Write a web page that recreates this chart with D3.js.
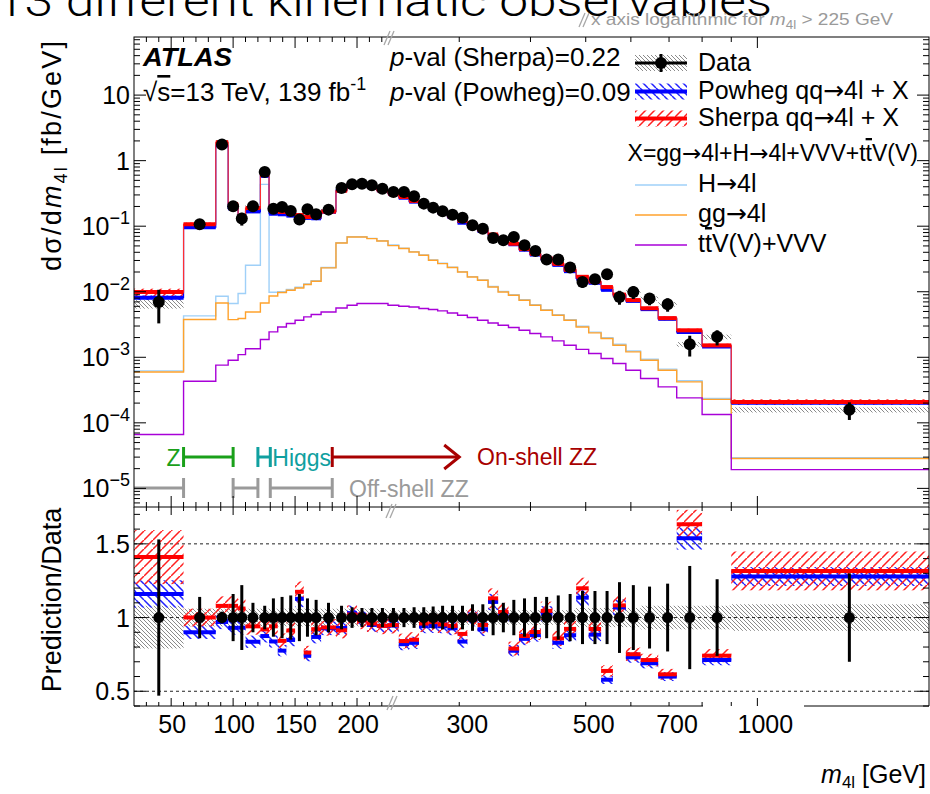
<!DOCTYPE html>
<html>
<head>
<meta charset="utf-8">
<script src="https://cdn.jsdelivr.net/npm/d3@7"></script>
<style>
  body { margin: 0; background: #fff; }
  svg { display: block; }
  text { font-family: "Liberation Sans", Arial, Helvetica, sans-serif; }
  .arr { font-family: "DejaVu Sans", sans-serif; }
</style>
</head>
<body>
<svg id="chart" width="930" height="794"></svg>
<script>
// m4l bin edges [GeV] (linear up to 225, log above)
const binEdges = [20, 60, 86, 96, 104, 110, 122, 129, 136, 143, 150, 157, 163, 171, 183, 192, 200, 208, 216, 225,
  235, 245, 255, 265, 275, 286, 298, 310, 323, 337, 351, 366, 382, 399, 417, 437, 458, 481, 506, 532, 558, 588,
  624, 670, 722, 800, 900, 2000];

// measured dsigma/dm4l [fb/GeV]
const dataVal = [0.0070, 0.107, 1.77, 0.201, 0.131, 0.201, 0.67, 0.185, 0.196, 0.171, 0.126, 0.181, 0.152, 0.179,
  0.382, 0.435, 0.446, 0.42, 0.374,
  0.332, 0.332, 0.286, 0.221, 0.192, 0.169, 0.150, 0.135, 0.103, 0.0918, 0.066, 0.061, 0.0684, 0.0512, 0.0419,
  0.031, 0.031, 0.0234, 0.0141, 0.0155, 0.0185, 0.00834, 0.00993, 0.00787, 0.00644, 0.00158, 0.00205, 0.000158];
// relative stat. error (error bars)
const dataStat = [0.53, 0.14, 0.04, 0.16, 0.22, 0.10, 0.08, 0.13, 0.14, 0.15, 0.16, 0.13, 0.12, 0.10, 0.08, 0.07,
  0.065, 0.065, 0.065,
  0.065, 0.065, 0.07, 0.07, 0.075, 0.08, 0.08, 0.08, 0.09, 0.09, 0.12, 0.10, 0.12, 0.13, 0.14, 0.14, 0.15, 0.16,
  0.18, 0.18, 0.18, 0.24, 0.22, 0.21, 0.23, 0.35, 0.26, 0.30];
// relative syst. band (grey hatch)
const dataSysUp = [0.08, 0.06, 0.06, 0.06, 0.06, 0.06, 0.06, 0.06, 0.06, 0.06, 0.06, 0.06, 0.06, 0.06, 0.06, 0.06,
  0.06, 0.06, 0.06,
  0.05, 0.05, 0.05, 0.05, 0.05, 0.05, 0.05, 0.05, 0.05, 0.05, 0.05, 0.05, 0.05, 0.05, 0.05, 0.05, 0.05, 0.05,
  0.065, 0.065, 0.065, 0.065, 0.065, 0.08, 0.08, 0.08, 0.08, 0.09];
const dataSysDn = [0.21, 0.06, 0.06, 0.06, 0.06, 0.06, 0.06, 0.06, 0.06, 0.06, 0.06, 0.06, 0.06, 0.06, 0.06, 0.06,
  0.06, 0.06, 0.06,
  0.05, 0.05, 0.05, 0.05, 0.05, 0.05, 0.05, 0.05, 0.05, 0.05, 0.05, 0.05, 0.05, 0.05, 0.05, 0.05, 0.05, 0.05,
  0.065, 0.065, 0.065, 0.065, 0.065, 0.08, 0.08, 0.08, 0.08, 0.09];

// Sherpa qq->4l + X
const sherpa = [0.00987, 0.107, 1.91, 0.217, 0.139, 0.189, 0.616, 0.174, 0.165, 0.156, 0.148, 0.138, 0.140, 0.167,
  0.349, 0.444, 0.437, 0.403, 0.353,
  0.315, 0.279, 0.243, 0.212, 0.186, 0.161, 0.1415, 0.120, 0.104, 0.0872, 0.0746, 0.0633, 0.0540, 0.0448, 0.0378,
  0.0324, 0.0266, 0.0216, 0.0169, 0.0143, 0.0118, 0.00903, 0.00746, 0.0056, 0.00396, 0.00258, 0.00152, 0.000208];
const sherpaUnc = [0.13, 0.06, 0.06, 0.06, 0.06, 0.06, 0.06, 0.06, 0.06, 0.06, 0.06, 0.06, 0.06, 0.06, 0.06, 0.06,
  0.06, 0.06, 0.06,
  0.06, 0.06, 0.06, 0.06, 0.06, 0.06, 0.06, 0.06, 0.06, 0.06, 0.06, 0.06, 0.06, 0.06, 0.06, 0.06, 0.06, 0.06,
  0.06, 0.06, 0.06, 0.06, 0.06, 0.06, 0.06, 0.06, 0.06, 0.10];
// Powheg qq->4l + X
const powheg = [0.00812, 0.0963, 1.717, 0.187, 0.122, 0.168, 0.586, 0.155, 0.152, 0.145, 0.142, 0.134, 0.132, 0.166,
  0.355, 0.448, 0.442, 0.399, 0.353,
  0.314, 0.272, 0.237, 0.208, 0.181, 0.159, 0.139, 0.113, 0.102, 0.0845, 0.0730, 0.0622, 0.0530, 0.0438, 0.0369,
  0.0318, 0.0257, 0.0206, 0.0160, 0.0137, 0.0107, 0.00892, 0.00725, 0.00543, 0.00386, 0.00243, 0.00146, 0.000202];
const powhegUnc = [0.08, 0.05, 0.05, 0.05, 0.05, 0.05, 0.05, 0.05, 0.05, 0.05, 0.05, 0.05, 0.05, 0.05, 0.05, 0.05,
  0.05, 0.05, 0.05,
  0.05, 0.05, 0.05, 0.05, 0.05, 0.05, 0.05, 0.05, 0.05, 0.05, 0.05, 0.05, 0.05, 0.05, 0.05, 0.05, 0.05, 0.05,
  0.05, 0.05, 0.05, 0.05, 0.05, 0.05, 0.05, 0.05, 0.05, 0.05];

// component lines
const higgs = [6.2e-4, 4.28e-3, 8.53e-3, 6.6e-3, 9.4e-3, 0.0254, 0.435, 9.8e-3, 0.0100, 0.0108, 0.0117, 0.0131,
  0.0147, 0.0234, 0.0560, 0.0690, 0.0690, 0.0653, 0.0600,
  0.0516, 0.0460, 0.0409, 0.0363, 0.0305, 0.0272, 0.0237, 0.0202, 0.0170, 0.0152, 0.0120, 0.0101, 0.0090,
  0.00755, 0.00633, 0.00532, 0.00447, 0.00376, 0.00297, 0.00242, 0.00199, 0.00158, 0.00125, 0.000935, 0.000660,
  0.000438, 0.000236, 2.95e-5];
const ggZZ = [5.98e-4, 3.77e-3, 6.75e-3, 3.76e-3, 3.9e-3, 4.92e-3, 6.75e-3, 8.63e-3, 9.72e-3, 1.054e-2, 1.143e-2,
  1.288e-2, 1.445e-2, 2.31e-2, 5.55e-2, 6.84e-2, 6.84e-2, 6.47e-2, 5.95e-2,
  0.0505, 0.0456, 0.0405, 0.0360, 0.0302, 0.0269, 0.0234, 0.0200, 0.0168, 0.0150, 0.0118, 0.00993, 0.00885,
  0.00742, 0.00622, 0.00522, 0.00438, 0.00368, 0.00290, 0.00236, 0.00194, 0.00153, 0.00121, 0.000903, 0.000636,
  0.000422, 0.000228, 2.86e-5];
const ttvVVV = [6.65e-5, 4.32e-4, 7.6e-4, 9.0e-4, 1.1e-3, 1.35e-3, 1.87e-3, 2.44e-3, 2.9e-3, 3.27e-3, 3.68e-3,
  4.13e-3, 4.49e-3, 4.92e-3, 5.66e-3, 6.22e-3, 6.6e-3, 6.6e-3, 6.6e-3,
  6.22e-3, 6.01e-3, 5.86e-3, 5.55e-3, 5.36e-3, 5.1e-3, 4.75e-3, 4.38e-3, 4.05e-3, 3.68e-3, 3.34e-3, 3.08e-3,
  2.85e-3, 2.59e-3, 2.31e-3, 2.05e-3, 1.78e-3, 1.53e-3, 1.32e-3, 1.14e-3, 9.6e-4, 8.04e-4, 6.36e-4, 4.75e-4,
  3.54e-4, 2.4e-4, 1.34e-4, 1.93e-5];

// axis ticks / labels
const xTickLabels = [50, 100, 150, 200, 300, 500, 700, 1000];
const xMajorTicks = [50, 100, 150, 200, 1000];
const xMinorTicks = [30, 40, 60, 70, 80, 90, 110, 120, 130, 140, 160, 170, 180, 190, 210, 220,
  300, 400, 500, 600, 700, 800, 900];
const yUpperLabels = [1e-5, 1e-4, 1e-3, 1e-2, 1e-1, 1, 10];
const yLowerLabels = [0.5, 1, 1.5];

// region annotations [GeV]
const zWindow = [60, 100];
const higgsWindow = [120, 130];
const onShell = [180, 300];
const offShell = [[20, 60], [100, 120], [130, 180]];

// ---------------------------------------------------------------
const L = 134, R = 929, XB = 388;   // frame and axis-break position
const T1 = 37, B1 = 507, B2 = 706;  // upper top, pad split, lower bottom
const ARROW = "\u2192";

const svg = d3.select("#chart");
const defs = svg.append("defs");

const xLin = d3.scaleLinear().domain([20, 225]).range([L, XB]);
const xLog = d3.scaleLog().domain([225, 2000]).range([XB, R]);
const x = m => (m <= 225 ? xLin(m) : xLog(m));

const yU = d3.scaleLog().domain([5.2e-6, 77]).range([B1, T1]);
const yL = d3.scaleLinear().domain([0.4, 1.75]).range([B2, B1]);

const bins = d3.range(binEdges.length - 1).map(i => ({
  lo: binEdges[i], hi: binEdges[i + 1], c: (binEdges[i] + binEdges[i + 1]) / 2,
  v: dataVal[i], st: dataStat[i], su: dataSysUp[i], sd: dataSysDn[i],
  s: sherpa[i], su2: sherpaUnc[i], p: powheg[i], pu: powhegUnc[i]
}));

// hatch patterns
function hatch(id, color, up, size, sw) {
  const s = size;
  const d = up
    ? `M0,${s} L${s},0 M${-s},${s} L0,0 M${s},${2 * s} L${2 * s},${s}`
    : `M0,0 L${s},${s} M${-s},0 L0,${s} M${s},0 L${2 * s},${s}`;
  defs.append("pattern").attr("id", id).attr("patternUnits", "userSpaceOnUse")
    .attr("width", s).attr("height", s)
    .append("path").attr("d", d).attr("stroke", color).attr("stroke-width", sw).attr("fill", "none");
}
hatch("hRed", "#ff2020", true, 9, 1.5);
hatch("hBlue", "#2020ff", false, 8, 1.5);
hatch("hGray", "#8a8a8a", false, 4, 1);

defs.append("clipPath").attr("id", "clipU").append("rect")
  .attr("x", L).attr("y", T1).attr("width", R - L).attr("height", B1 - T1);
defs.append("clipPath").attr("id", "clipL").append("rect")
  .attr("x", L).attr("y", B1).attr("width", R - L).attr("height", B2 - B1);

// slide title (cut at the top)
svg.append("text").attr("x", -4).attr("y", 16).attr("font-size", 44)
  .style("font-family", "Roboto, 'Liberation Sans', sans-serif").attr("font-weight", 300)
  .attr("textLength", 776).attr("lengthAdjust", "spacingAndGlyphs")
  .text("13 different kinematic observables");

// ================= upper panel =================
const gU = svg.append("g").attr("clip-path", "url(#clipU)");

const band = (g, lo, hi, yS, fill) =>
  g.append("g").selectAll("rect").data(bins).join("rect")
    .attr("x", d => x(d.lo)).attr("width", d => x(d.hi) - x(d.lo))
    .attr("y", d => yS(hi(d))).attr("height", d => yS(lo(d)) - yS(hi(d)))
    .attr("fill", fill);

band(gU, d => d.v * (1 - d.sd), d => d.v * (1 + d.su), yU, "url(#hGray)");

const stepLine = (vals, yS) => d3.line().x(d => d[0]).y(d => yS(d[1]))(
  bins.flatMap((b, i) => [[x(b.lo), vals[i]], [x(b.hi), vals[i]]]));

gU.append("path").attr("d", stepLine(higgs, yU)).attr("fill", "none").attr("stroke", "#9fd0f8").attr("stroke-width", 1.4);
gU.append("path").attr("d", stepLine(ggZZ, yU)).attr("fill", "none").attr("stroke", "#ffa22c").attr("stroke-width", 1.4);
gU.append("path").attr("d", stepLine(ttvVVV, yU)).attr("fill", "none").attr("stroke", "#a800d8").attr("stroke-width", 1.4);

// predictions
band(gU, d => d.p * (1 - d.pu), d => d.p * (1 + d.pu), yU, "url(#hBlue)");
band(gU, d => d.s * (1 - d.su2), d => d.s * (1 + d.su2), yU, "url(#hRed)");
gU.append("path").attr("d", stepLine(powheg, yU)).attr("fill", "none").attr("stroke", "#0000ff").attr("stroke-width", 1.2);
gU.append("g").selectAll("line").data(bins).join("line")
  .attr("x1", d => x(d.lo)).attr("x2", d => x(d.hi)).attr("y1", d => yU(d.p)).attr("y2", d => yU(d.p))
  .attr("stroke", "#0000ff").attr("stroke-width", 4);
gU.append("path").attr("d", stepLine(sherpa, yU)).attr("fill", "none").attr("stroke", "#ff3030").attr("stroke-width", 1.2);
gU.append("g").selectAll("line").data(bins).join("line")
  .attr("x1", d => x(d.lo)).attr("x2", d => x(d.hi)).attr("y1", d => yU(d.s)).attr("y2", d => yU(d.s))
  .attr("stroke", "#ff0000").attr("stroke-width", 4);

// data
gU.append("g").selectAll("line").data(bins).join("line")
  .attr("x1", d => x(d.c)).attr("x2", d => x(d.c))
  .attr("y1", d => yU(d.v * (1 + d.st))).attr("y2", d => yU(d.v * (1 - d.st)))
  .attr("stroke", "#000").attr("stroke-width", 3);
gU.append("g").selectAll("circle").data(bins).join("circle")
  .attr("cx", d => x(d.c)).attr("cy", d => yU(d.v)).attr("r", 6).attr("fill", "#000");

// region annotations
function interval(g, a, b, y, color, capL, capR, arrow) {
  g.append("line").attr("x1", x(a)).attr("x2", x(b)).attr("y1", y).attr("y2", y)
    .attr("stroke", color).attr("stroke-width", 3);
  if (capL) g.append("line").attr("x1", x(a)).attr("x2", x(a)).attr("y1", y - 10).attr("y2", y + 10)
    .attr("stroke", color).attr("stroke-width", 3);
  if (capR) g.append("line").attr("x1", x(b)).attr("x2", x(b)).attr("y1", y - 10).attr("y2", y + 10)
    .attr("stroke", color).attr("stroke-width", 3);
  if (arrow) g.append("path").attr("d", `M${x(b) - 15},${y - 12} L${x(b)},${y} L${x(b) - 15},${y + 12}`)
    .attr("fill", "none").attr("stroke", color).attr("stroke-width", 3);
}
const gA = svg.append("g");
interval(gA, zWindow[0], zWindow[1], 457, "#1aa01a", true, true, false);
interval(gA, higgsWindow[0], higgsWindow[1], 457, "#10a0a0", true, true, false);
interval(gA, onShell[0], onShell[1], 457, "#a80000", true, false, true);
offShell.forEach((r, i) => interval(gA, r[0], r[1], 488, "#9a9a9a", i > 0, true, false));
gA.append("text").attr("x", x(zWindow[0]) - 3).attr("y", 466).attr("text-anchor", "end")
  .attr("font-size", 23).attr("fill", "#1aa01a").text("Z");
gA.append("text").attr("x", x(higgsWindow[1]) + 2).attr("y", 466)
  .attr("font-size", 23).attr("fill", "#10a0a0").text("Higgs");
gA.append("text").attr("x", 477).attr("y", 465)
  .attr("font-size", 23).attr("fill", "#a80000").text("On-shell ZZ");
gA.append("text").attr("x", 349).attr("y", 497)
  .attr("font-size", 23).attr("fill", "#9a9a9a").text("Off-shell ZZ");

// ================= lower panel =================
const gL = svg.append("g").attr("clip-path", "url(#clipL)");
band(gL, d => 1 - d.sd, d => 1 + d.su, yL, "url(#hGray)");
yLowerLabels.forEach(v => gL.append("line").attr("x1", L).attr("x2", R).attr("y1", yL(v)).attr("y2", yL(v))
  .attr("stroke", "#222").attr("stroke-width", 1).attr("stroke-dasharray", "3,3"));
band(gL, d => d.p / d.v * (1 - d.pu), d => d.p / d.v * (1 + d.pu), yL, "url(#hBlue)");
band(gL, d => d.s / d.v * (1 - d.su2), d => d.s / d.v * (1 + d.su2), yL, "url(#hRed)");
gL.append("g").selectAll("line").data(bins).join("line")
  .attr("x1", d => x(d.lo)).attr("x2", d => x(d.hi)).attr("y1", d => yL(d.p / d.v)).attr("y2", d => yL(d.p / d.v))
  .attr("stroke", "#0000ff").attr("stroke-width", 4);
gL.append("g").selectAll("line").data(bins).join("line")
  .attr("x1", d => x(d.lo)).attr("x2", d => x(d.hi)).attr("y1", d => yL(d.s / d.v)).attr("y2", d => yL(d.s / d.v))
  .attr("stroke", "#ff0000").attr("stroke-width", 4);
gL.append("g").selectAll("line").data(bins).join("line")
  .attr("x1", d => x(d.c)).attr("x2", d => x(d.c))
  .attr("y1", d => yL(1 + d.st)).attr("y2", d => yL(1 - d.st))
  .attr("stroke", "#000").attr("stroke-width", 3);
gL.append("g").selectAll("circle").data(bins).join("circle")
  .attr("cx", d => x(d.c)).attr("cy", yL(1)).attr("r", 5.5).attr("fill", "#000");

// ================= frames & ticks =================
const gF = svg.append("g").attr("stroke", "#000").attr("stroke-width", 1).attr("fill", "none");
gF.append("rect").attr("x", L).attr("y", T1).attr("width", R - L).attr("height", B1 - T1);
gF.append("line").attr("x1", L).attr("x2", L).attr("y1", B1).attr("y2", B2);
gF.append("line").attr("x1", R).attr("x2", R).attr("y1", B1).attr("y2", B2);
gF.append("line").attr("x1", L).attr("x2", 703).attr("y1", B2).attr("y2", B2);
gF.append("line").attr("x1", 804).attr("x2", R).attr("y1", B2).attr("y2", B2);

function xTicks(y0, dir, lenMaj, lenMin) {
  xMajorTicks.forEach(v => gF.append("line").attr("x1", x(v)).attr("x2", x(v)).attr("y1", y0).attr("y2", y0 + dir * lenMaj));
  xMinorTicks.forEach(v => gF.append("line").attr("x1", x(v)).attr("x2", x(v)).attr("y1", y0).attr("y2", y0 + dir * lenMin));
}
xTicks(T1, 1, 11, 5);
xTicks(B1, -1, 11, 5);
xTicks(B1, 1, 8, 4);
xTicks(B2, -1, 8, 4);

// upper log y ticks
d3.range(-6, 2).forEach(e => d3.range(1, 10).forEach(k => {
  const v = k * Math.pow(10, e);
  if (v < yU.domain()[0] || v > yU.domain()[1]) return;
  const len = k === 1 ? 12 : 6;
  gF.append("line").attr("x1", L).attr("x2", L + len).attr("y1", yU(v)).attr("y2", yU(v));
  gF.append("line").attr("x1", R).attr("x2", R - len).attr("y1", yU(v)).attr("y2", yU(v));
}));
// lower linear y ticks
d3.range(4, 18).forEach(k => {
  const v = k / 10;
  const len = k % 5 === 0 ? 12 : 6;
  gF.append("line").attr("x1", L).attr("x2", L + len).attr("y1", yL(v)).attr("y2", yL(v));
  gF.append("line").attr("x1", R).attr("x2", R - len).attr("y1", yL(v)).attr("y2", yL(v));
});

// axis-break marks
const gB = svg.append("g").attr("stroke", "#a8a8a8").attr("stroke-width", 1.3);
[[x(225) + 1, 38], [x(225) + 3, 511], [x(225) + 4, 703], [584, 20]].forEach(([cx, cy]) => {
  [-2, 2].forEach(o => gB.append("line").attr("x1", cx + o - 3).attr("x2", cx + o + 3)
    .attr("y1", cy + 7).attr("y2", cy - 7));
});

// tick labels
const gT = svg.append("g").attr("font-size", 25).attr("fill", "#000");
xTickLabels.forEach(v => gT.append("text").attr("x", x(v) + (v > 225 ? 8 : 1)).attr("y", 733)
  .attr("text-anchor", "middle").text(v));
yUpperLabels.forEach(v => {
  const e = Math.round(Math.log10(v));
  const t = gT.append("text").attr("x", 130).attr("y", yU(v) + 9).attr("text-anchor", "end");
  if (e === 0) t.text("1");
  else if (e === 1) t.text("10");
  else {
    t.append("tspan").text("10");
    t.append("tspan").attr("dy", -11).attr("font-size", 18).text("\u2212" + (-e));
  }
});
yLowerLabels.forEach(v => gT.append("text").attr("x", 130).attr("y", yL(v) + 9)
  .attr("text-anchor", "end").text(v));

// axis titles
const tU = svg.append("text").attr("transform", "translate(61,156) rotate(-90)")
  .attr("text-anchor", "middle").attr("font-size", 27)
  .attr("textLength", 230).attr("lengthAdjust", "spacing");
tU.append("tspan").text("d\u03c3/d");
tU.append("tspan").attr("font-style", "italic").text("m");
tU.append("tspan").attr("dy", 6).attr("font-size", 18).text("4l");
tU.append("tspan").attr("dy", -6).text(" [fb/GeV]");
svg.append("text").attr("transform", "translate(61,600) rotate(-90)")
  .attr("text-anchor", "middle").attr("font-size", 27).text("Prediction/Data");
const tX = svg.append("text").attr("x", 926).attr("y", 783).attr("text-anchor", "end").attr("font-size", 25);
tX.append("tspan").attr("font-style", "italic").text("m");
tX.append("tspan").attr("dy", 5).attr("font-size", 17).text("4l");
tX.append("tspan").attr("dy", -5).text(" [GeV]");

// top note
const tN = svg.append("text").attr("x", 591).attr("y", 25).attr("font-size", 17).attr("fill", "#9a9a9a")
  .attr("textLength", 302).attr("lengthAdjust", "spacingAndGlyphs");
tN.append("tspan").text("x axis logarithmic for ");
tN.append("tspan").attr("font-style", "italic").text("m");
tN.append("tspan").attr("dy", 4).attr("font-size", 12).text("4l");
tN.append("tspan").attr("dy", -4).text(" > 225 GeV");

// labels inside the plot
svg.append("text").attr("x", 143).attr("y", 66).attr("font-size", 25).attr("font-weight", "bold")
  .attr("font-style", "italic").attr("textLength", 89).attr("lengthAdjust", "spacingAndGlyphs").text("ATLAS");
const tS = svg.append("text").attr("x", 143).attr("y", 101).attr("font-size", 26);
tS.append("tspan").text("\u221a");
tS.append("tspan").style("text-decoration", "overline").text("s");
tS.append("tspan").text("=13 TeV, 139 fb");
tS.append("tspan").attr("dy", -11).attr("font-size", 18).text("-1");
[["Sherpa", "0.22", 66], ["Powheg", "0.09", 101]].forEach(([n, pv, y]) => {
  const t = svg.append("text").attr("x", 390).attr("y", y).attr("font-size", 26);
  t.append("tspan").attr("font-style", "italic").text("p");
  t.append("tspan").text(`-val (${n})=${pv}`);
});

// legend
const gLeg = svg.append("g");
const lx0 = 635, lx1 = 687, ltx = 698;
gLeg.append("rect").attr("x", lx0).attr("y", 55).attr("width", lx1 - lx0).attr("height", 16).attr("fill", "url(#hGray)");
gLeg.append("line").attr("x1", lx0).attr("x2", lx1).attr("y1", 63).attr("y2", 63).attr("stroke", "#000").attr("stroke-width", 3);
gLeg.append("line").attr("x1", (lx0 + lx1) / 2).attr("x2", (lx0 + lx1) / 2).attr("y1", 54).attr("y2", 72).attr("stroke", "#000").attr("stroke-width", 3);
gLeg.append("circle").attr("cx", (lx0 + lx1) / 2).attr("cy", 63).attr("r", 6).attr("fill", "#000");
[["url(#hBlue)", "#0000ff", 91.5], ["url(#hRed)", "#ff0000", 118.5]].forEach(([f, c, y]) => {
  gLeg.append("rect").attr("x", lx0).attr("y", y - 8).attr("width", lx1 - lx0).attr("height", 16).attr("fill", f);
  gLeg.append("line").attr("x1", lx0).attr("x2", lx1).attr("y1", y).attr("y2", y).attr("stroke", c).attr("stroke-width", 4);
});
[["#9fd0f8", 185], ["#ffa22c", 215], ["#a800d8", 245]].forEach(([c, y]) =>
  gLeg.append("line").attr("x1", lx0).attr("x2", lx1).attr("y1", y).attr("y2", y).attr("stroke", c).attr("stroke-width", 1.4));
// parts: [text, overline?, arrow-font?]
const legText = (y, parts, size) => {
  const t = gLeg.append("text").attr("x", ltx).attr("y", y).attr("font-size", size || 25);
  parts.forEach(p => {
    const s = t.append("tspan").text(p[0]);
    if (p[1]) s.style("text-decoration", "overline");
    if (p[2]) s.attr("class", "arr");
  });
  return t;
};
legText(71, [["Data"]]);
legText(99, [["Powheg qq"], [ARROW, false, true], ["4l + X"]]);
legText(126, [["Sherpa qq"], [ARROW, false, true], ["4l + X"]]);
legText(161, [["X=gg"], [ARROW, false, true], ["4l+H"], [ARROW, false, true], ["4l+VVV+t"], ["t", true], ["V(V)"]], 23)
  .attr("x", 918).attr("text-anchor", "end");
legText(192, [["H"], [ARROW, false, true], ["4l"]]);
legText(222, [["gg"], [ARROW, false, true], ["4l"]]);
legText(252, [["t"], ["t", true], ["V(V)+VVV"]]);
</script>
</body>
</html>
